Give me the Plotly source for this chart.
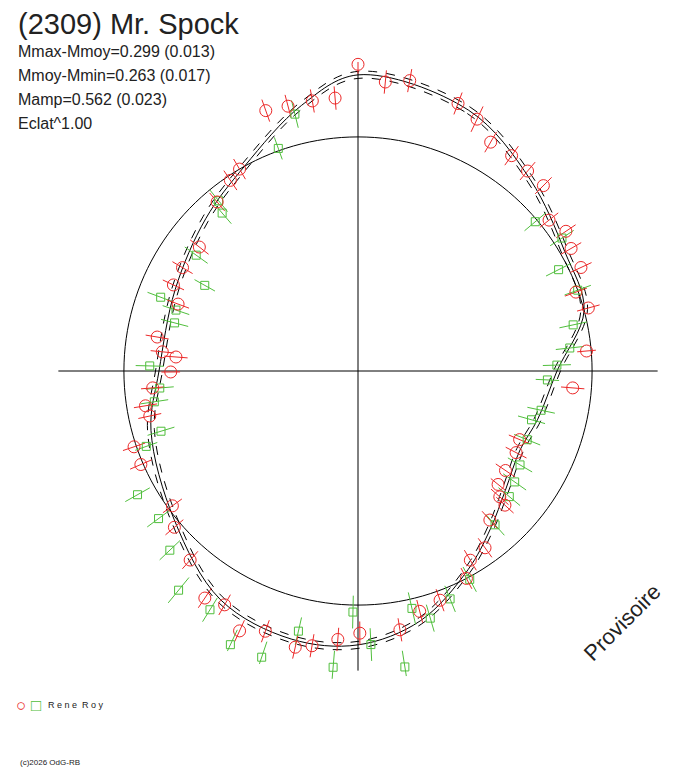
# polar light curve of (2309) Mr. Spock
import plotly.graph_objects as go
import numpy as np

# fitted curve : phase (deg) / relative radius
curve_phase = [0, 23, 42, 60, 75, 90, 105, 116, 129, 140, 151, 166, 180, 194, 211, 231, 254, 270, 294, 315, 331, 348]
curve_r = [1.265, 1.21, 1.10, 1.02, 1.00, 0.85, 0.795, 0.77, 0.81, 0.88, 0.97, 1.10, 1.17, 1.18, 1.14, 1.01, 0.92, 0.85, 0.855, 0.92, 1.00, 1.16]
curve_sigma = 0.015

red_phase = [0, 5.4, 10.1, 355.2, 350.4, 345.2, 340.5, 20.5, 25.3, 30.1, 35.5, 40.3, 45, 51.7, 56.1, 60.1,
             65.1, 70.1, 74.7, 85, 94.5, 113, 124, 129, 132.4, 138.5, 144.3, 149.3, 152.4, 160.3, 165.6,
             170.8, 179.6, 184.3, 189.5, 192.8, 199.6, 204.5, 209.7, 214, 221.6, 229.6, 234, 246.7, 251.3,
             257.8, 260.7, 265.3, 269.7, 274.4, 275.6, 279.6, 290.4, 295, 300.5, 308, 320.2, 326.2, 329.6,
             117.3, 131.6]
red_r = [1.31, 1.24, 1.26, 1.17, 1.17, 1.17, 1.18, 1.22, 1.19, 1.13, 1.13, 1.12, 1.12, 1.04, 1.07, 1.05,
         1.05, 0.99, 1.02, 0.98, 0.92, 0.75, 0.76, 0.77, 0.85, 0.85, 0.93, 0.94, 1.00, 1.04, 1.06,
         1.12, 1.12, 1.15, 1.19, 1.21, 1.18, 1.22, 1.15, 1.17, 1.08, 1.03, 0.98, 1.01, 1.01,
         0.91, 0.92, 0.88, 0.80, 0.78, 0.84, 0.87, 0.82, 0.87, 0.87, 0.86, 0.94, 0.98, 1.00,
         0.76, 0.81]
red_err = [0.04, 0.05, 0.05, 0.05, 0.05, 0.05, 0.05, 0.05, 0.06, 0.05, 0.05, 0.05, 0.05, 0.05, 0.05, 0.05,
           0.05, 0.05, 0.05, 0.04, 0.05, 0.05, 0.05, 0.04, 0.05, 0.05, 0.05, 0.05, 0.05, 0.05, 0.05,
           0.05, 0.05, 0.05, 0.05, 0.05, 0.05, 0.05, 0.05, 0.05, 0.05, 0.05, 0.05, 0.05, 0.05,
           0.05, 0.05, 0.05, 0.04, 0.05, 0.05, 0.05, 0.05, 0.05, 0.05, 0.05, 0.05, 0.05, 0.05,
           0.05, 0.05]

green_phase = [340.3, 319.3, 320.7, 305.6, 299.2, 288.5, 284.7, 271.4, 265.1, 261.4, 253, 250.4, 240.7, 233.5,
               226.4, 219.3, 211.8, 205, 198.6, 192.9, 184.8, 181.2, 177.3, 171, 167.2, 163.7, 158, 151.8,
               138.3, 129.7, 125.3, 120.1, 112.1, 105.7, 102.1, 92.7, 88.3, 83.8, 77.9, 69.8, 56.9, 49.9,
               63.2, 346.2, 290.5]
green_r = [1.01, 0.89, 0.94, 0.85, 0.75, 0.82, 0.81, 0.89, 0.85, 0.88, 0.88, 0.96, 1.08, 1.06,
           1.11, 1.21, 1.20, 1.29, 1.29, 1.14, 1.27, 1.03, 1.17, 1.28, 1.04, 1.10, 1.05, 1.01,
           0.88, 0.84, 0.82, 0.80, 0.78, 0.77, 0.80, 0.81, 0.85, 0.91, 0.94, 1.00, 1.04, 0.99,
           0.96, 1.13, 0.90]
green_err = [0.05, 0.06, 0.06, 0.06, 0.05, 0.06, 0.06, 0.06, 0.06, 0.06, 0.06, 0.05, 0.06, 0.06,
             0.06, 0.07, 0.06, 0.07, 0.07, 0.06, 0.07, 0.07, 0.07, 0.07, 0.07, 0.06, 0.06, 0.06,
             0.06, 0.06, 0.06, 0.06, 0.06, 0.06, 0.06, 0.05, 0.06, 0.06, 0.06, 0.06, 0.06, 0.06,
             0.06, 0.06, 0.06]

RED = 'rgb(235,40,40)'
GREEN = 'rgb(80,190,60)'
OFF = 8  # page margin of the browser


def bars(phase, r, err):
    """radial error segments separated by None"""
    th, rr = [], []
    for p, v, e in zip(phase, r, err):
        th += [p, p, None]
        rr += [v - e, v + e, None]
    return th, rr


def px(x):
    return (x - OFF) / 688


def py(y):
    return 1 - (y - OFF) / 768


fig = go.Figure()

# reference circle
fig.add_trace(go.Scatterpolar(theta=list(range(0, 361, 2)), r=[1.0] * 181, mode='lines',
                              line=dict(color='black', width=1)))
# axes cross
for a in [0, 90]:
    fig.add_trace(go.Scatterpolar(theta=[a, a + 180], r=[1.28, 1.28], mode='lines',
                                  line=dict(color='black', width=1)))

cp = curve_phase + [curve_phase[0]]
cr = np.array(curve_r + [curve_r[0]])
fig.add_trace(go.Scatterpolar(theta=cp, r=cr, mode='lines', line=dict(color='black', width=1, shape='spline')))
for s in [-1, 1]:
    fig.add_trace(go.Scatterpolar(theta=cp, r=cr + s * curve_sigma, mode='lines',
                                  line=dict(color='black', width=1, dash='dash', shape='spline')))

th, rr = bars(green_phase, green_r, green_err)
fig.add_trace(go.Scatterpolar(theta=th, r=rr, mode='lines', line=dict(color=GREEN, width=1)))
th, rr = bars(red_phase, red_r, red_err)
fig.add_trace(go.Scatterpolar(theta=th, r=rr, mode='lines', line=dict(color=RED, width=1)))

fig.add_trace(go.Scatterpolar(theta=green_phase, r=green_r, mode='markers',
                              marker=dict(symbol='square-open', size=8, color=GREEN, line=dict(width=1))))
fig.add_trace(go.Scatterpolar(theta=red_phase, r=red_r, mode='markers',
                              marker=dict(symbol='circle-open', size=12, color=RED, line=dict(width=1))))

stats = ['Mmax-Mmoy=0.299 (0.013)', 'Mmoy-Mmin=0.263 (0.017)', 'Mamp=0.562 (0.023)', 'Eclat^1.00']
annots = [dict(text='(2309) Mr. Spock', x=px(16), y=py(24), font=dict(size=29))]
for i, s in enumerate(stats):
    annots.append(dict(text=s, x=px(16), y=py(52 + 24 * i), font=dict(size=16)))
annots += [
    dict(text='<span style="color:rgb(235,40,40)">○</span> <span style="color:rgb(80,190,60)">□</span>',
         x=px(14), y=py(705), font=dict(size=17)),
    dict(text='R e n e&nbsp;&nbsp;R o y', x=px(46), y=py(705), font=dict(size=9)),
    dict(text='(c)2026 OdG-RB', x=px(18), y=py(762), font=dict(size=8)),
    dict(text='Provisoire', x=px(622), y=py(622), textangle=-45, xanchor='center', font=dict(size=22)),
]
for a in annots:
    a.setdefault('xanchor', 'left')
    a.update(xref='paper', yref='paper', yanchor='middle', showarrow=False)

fig.update_layout(
    width=688, height=768,
    margin=dict(l=0, r=0, t=0, b=0),
    paper_bgcolor='white',
    showlegend=False,
    font=dict(family='Liberation Sans', color='#222'),
    polar=dict(
        domain=dict(x=[px(49), px(667)], y=[py(680), py(62)]),
        bgcolor='white',
        angularaxis=dict(rotation=90, direction='clockwise', visible=False),
        radialaxis=dict(range=[0, 1.32], visible=False),
    ),
    annotations=annots,
)

fig.write_html('out.html')
